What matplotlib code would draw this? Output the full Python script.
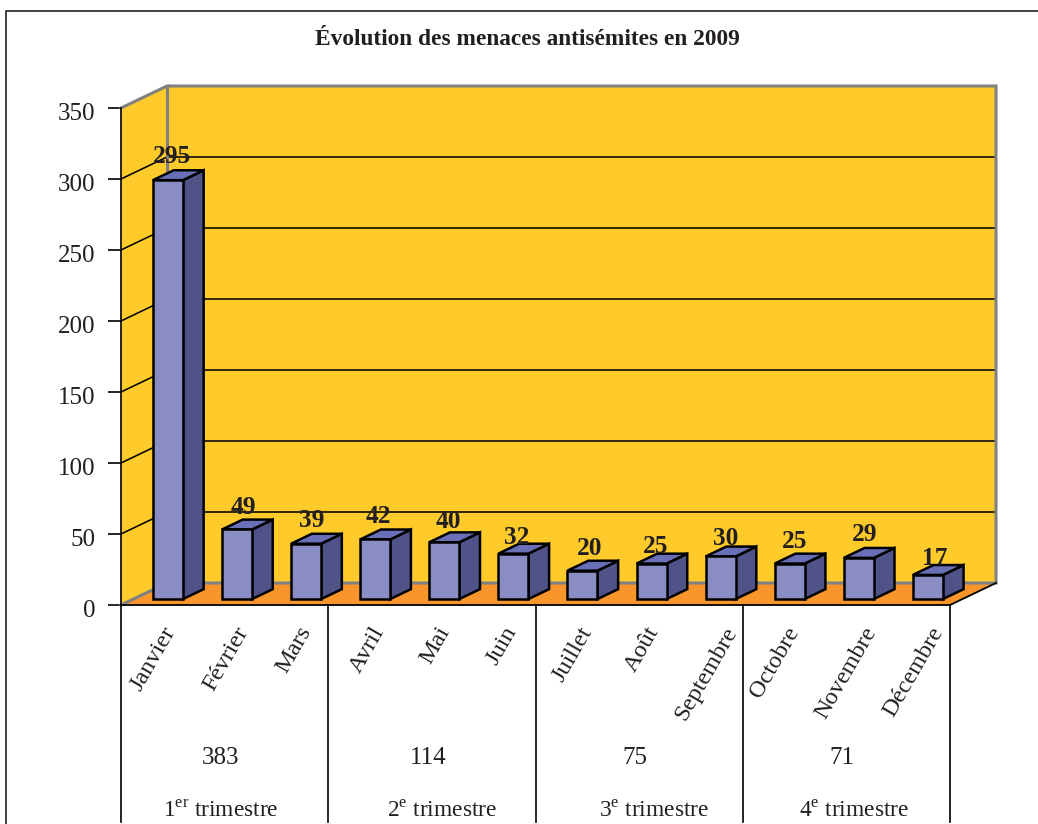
import matplotlib
matplotlib.use('Agg')
import matplotlib.pyplot as plt
from matplotlib.lines import Line2D
from matplotlib.patches import Polygon
from matplotlib.transforms import ScaledTranslation

plt.rcParams['font.family'] = ['Liberation Serif', 'DejaVu Serif']
plt.rcParams['mathtext.fontset'] = 'custom'
plt.rcParams['mathtext.rm'] = 'Liberation Serif'

months = ['Janvier', 'Février', 'Mars', 'Avril', 'Mai', 'Juin', 'Juillet', 'Août',
          'Septembre', 'Octobre', 'Novembre', 'Décembre']
threats = [295, 49, 39, 42, 40, 32, 20, 25, 30, 25, 29, 17]
quarter_totals = [383, 114, 75, 71]
quarter_names = [r'1$^{\mathrm{er}}$ trimestre', r'2$^{\mathrm{e}}$ trimestre',
                 r'3$^{\mathrm{e}}$ trimestre', r'4$^{\mathrm{e}}$ trimestre']
y_ticks = [0, 50, 100, 150, 200, 250, 300, 350]

WALL = '#FFCB2B'
FLOOR = '#F8962B'
EDGE = '#808080'
FRONT = '#8A8CC4'
SIDE = '#4F5388'
TOP = '#6A70B8'
INK = '#231F20'

W, H = 1038, 824
fig = plt.figure(figsize=(W / 100, H / 100), dpi=100)
ax = fig.add_axes([121 / W, 1 - 605 / H, 829 / W, 497 / H])
ax.set_xlim(-0.5, 11.5)
ax.set_ylim(0, 350)
ax.patch.set_visible(False)
for s in ['top', 'right', 'bottom']:
    ax.spines[s].set_visible(False)
ax.spines['left'].set_linewidth(1.2)
ax.spines['left'].set_zorder(6)

# depth axis of the fake 3d box, in data units for d=1
DX = 46 / (829 / 12)
DY = 22 / (497 / 350)


def shift(x, y, d):
    return (x + d * DX, y + d * DY)


def poly(points, **kw):
    p = Polygon(points, closed=True, clip_on=False, **kw)
    ax.add_patch(p)
    return p


x0, x1 = -0.5, 11.5
poly([shift(x0, 0, 1), shift(x1, 0, 1), shift(x1, 350, 1), shift(x0, 350, 1)],
     facecolor=WALL, edgecolor='none', zorder=1)
poly([shift(x0, 0, 0), shift(x0, 0, 1), shift(x0, 350, 1), shift(x0, 350, 0)],
     facecolor=WALL, edgecolor='none', zorder=1)
poly([shift(x0, 0, 0), shift(x1, 0, 0), shift(x1, 0, 1), shift(x0, 0, 1)],
     facecolor=FLOOR, edgecolor='none', zorder=1)

# gridlines run along the side wall and then across the back wall
for v in y_ticks[1:-1]:
    xs, ys = zip(shift(x0, v, 0), shift(x0, v, 1), shift(x1, v, 1))
    ax.plot(xs, ys, color='black', lw=1.15, clip_on=False, zorder=2)

# grey outline of the walls
xs, ys = zip(shift(x0, 350, 0), shift(x0, 350, 1), shift(x1, 350, 1), shift(x1, 0, 1), shift(x0, 0, 1), shift(x0, 0, 0))
ax.plot(xs, ys, color=EDGE, lw=2.2, clip_on=False, zorder=2, solid_joinstyle='miter')
xs, ys = zip(shift(x0, 350, 1), shift(x0, 0, 1))
ax.plot(xs, ys, color=EDGE, lw=2.2, clip_on=False, zorder=2)

# floor front and right edges
xs, ys = zip(shift(x0, 0, 0), shift(x1, 0, 0), shift(x1, 0, 1))
ax.plot(xs, ys, color='black', lw=1.3, clip_on=False, zorder=5)

# label placement varies from bar to bar, offsets in pixels
month_nudge = [6, 10, 4, 8, 4, 2, 8, 6, 15, 8, 16, 14]
value_dx = [4, 6, 6, 3.5, 4, 3.5, 7, 4.5, 5.5, 5, 6, 7]
value_gap = [26, 24, 25, 25, 23, 18, 24, 19, 20, 24, 25, 19]

# bars: front face from ax.bar, side and top built on the same values
bar_w = 30 / (829 / 12)
d_front, d_back = 0.27, 0.72
for i, v in enumerate(threats):
    xl = i - bar_w / 2
    xr = i + bar_w / 2
    style = dict(edgecolor='black', linewidth=1.8, joinstyle='miter', zorder=3)
    poly([shift(xr, 0, d_front), shift(xr, 0, d_back), shift(xr, v, d_back), shift(xr, v, d_front)],
         facecolor=SIDE, **style)
    poly([shift(xl, v, d_front), shift(xr, v, d_front), shift(xr, v, d_back), shift(xl, v, d_back)],
         facecolor=TOP, **style)
    fx, fy = shift(i, 0, d_front)
    ax.bar(fx, v, bar_w, bottom=fy, color=FRONT, edgecolor='black', linewidth=1.8, zorder=4, clip_on=False)
    ax.annotate(str(v), xy=shift(i, v, d_front), xytext=(value_dx[i] * 0.72, (value_gap[i] - 8.6) * 0.72),
                textcoords='offset points', ha='center', va='baseline', fontsize=18.3, fontweight='bold',
                color=INK, zorder=7)
    ax.annotate(months[i], xy=(i, 0), xytext=(month_nudge[i] * 0.72, -13), textcoords='offset points',
                ha='right', va='top', rotation=60, rotation_mode='anchor',
                fontsize=17.5, color=INK)

# table under the axis: separators, totals and quarter names
name_nudge = [-3, 7, 10.5, 5.5]
for q in range(5):
    ax.plot([q * 3 - 0.5] * 2, [0, -152.5], color='black', lw=1.2, clip_on=False, zorder=5)
for q in range(4):
    cx = q * 3 + 1
    ax.annotate(str(quarter_totals[q]), xy=(cx, 0), xytext=(-3, -110.5), textcoords='offset points',
                ha='center', va='center', fontsize=18, color=INK)
    ax.annotate(quarter_names[q], xy=(cx, 0), xytext=(name_nudge[q], -148), textcoords='offset points',
                ha='center', va='center', fontsize=16.8, color=INK)

ax.set_xticks([])
ax.set_yticks(y_ticks)
ax.tick_params(axis='y', length=9.5, width=1.2, pad=9, labelsize=18, labelcolor=INK)
offset = ScaledTranslation(0, -3.5 / 100, fig.dpi_scale_trans)
for lab in ax.get_yticklabels():
    lab.set_transform(lab.get_transform() + offset)

fig.text(527 / W, 1 - 39.5 / H, 'Évolution des menaces antisémites en 2009', ha='center', va='center',
         fontsize=16.8, fontweight='bold', color=INK)

# page frame, open on the right and at the bottom
fig.add_artist(Line2D([1, 6 / W, 6 / W], [1 - 11 / H, 1 - 11 / H, 0], color='#333333', lw=1.3))

fig.savefig('out.png', dpi=100)
